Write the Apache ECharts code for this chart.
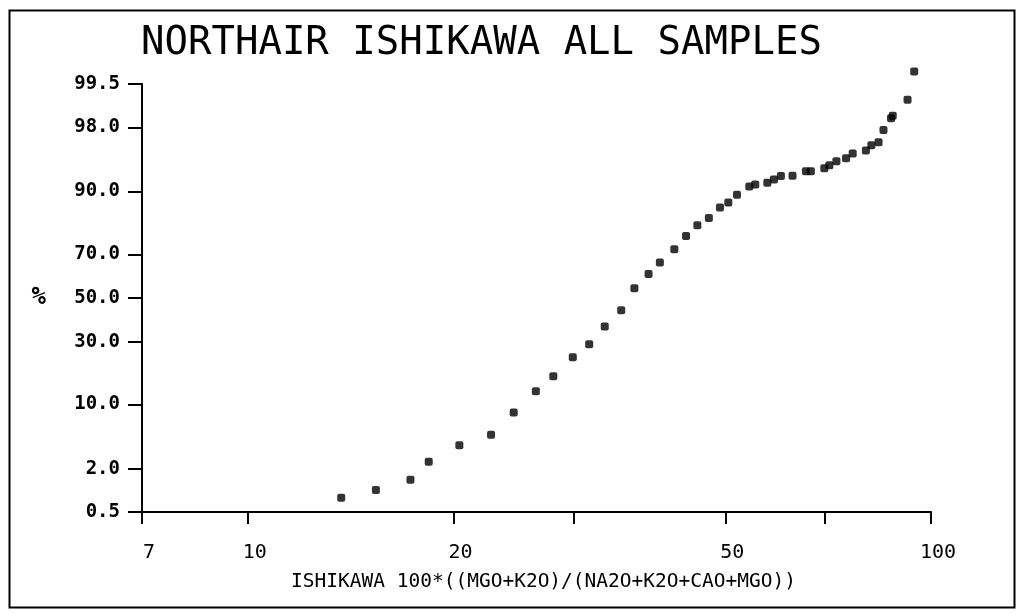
<!DOCTYPE html>
<html><head><meta charset="utf-8">
<script src="https://cdn.jsdelivr.net/npm/echarts@6/dist/echarts.min.js"></script>
<style>html,body{margin:0;padding:0;background:#fff}#chart{width:1019px;height:613px}</style>
</head><body><div id="chart"></div>
<script>
const chartTitle = 'NORTHAIR ISHIKAWA ALL SAMPLES';
const xAxisName = 'ISHIKAWA 100*((MGO+K2O)/(NA2O+K2O+CAO+MGO))';
const yAxisName = '%';

// Ishikawa index values (x) and cumulative percent (y, probability scale)
const ishikawa = [13.7, 15.4, 17.3, 18.4, 20.4, 22.7, 24.5, 26.4, 28.0, 29.9, 31.6, 33.3, 35.2, 36.8, 38.6, 40.1, 42.1, 43.8, 45.5, 47.3, 49.1, 50.5, 52.0, 54.2, 55.3, 57.6, 58.9, 60.3, 62.7, 65.6, 66.7, 69.8, 71.0, 72.7, 75.1, 76.8, 80.3, 81.8, 83.8, 85.2, 87.4, 87.9, 92.4, 94.5];
const cumPercent = [0.81, 1.04, 1.43, 2.43, 3.81, 5.0, 8.4, 13.1, 17.3, 23.8, 28.9, 36.6, 44.1, 54.7, 61.4, 66.5, 72.1, 77.2, 80.9, 83.2, 86.2, 87.5, 89.3, 91.0, 91.4, 91.75, 92.3, 92.9, 92.95, 93.65, 93.65, 94.1, 94.5, 95.0, 95.36, 95.9, 96.2, 96.7, 96.96, 97.84, 98.48, 98.59, 99.15, 99.68];

const yTickPercents = [0.5, 2.0, 10.0, 30.0, 50.0, 70.0, 90.0, 98.0, 99.5];
const xTickValues = [7, 10, 20, 30, 50, 70, 100];
const xLabelValues = [7, 10, 20, 50, 100];
const xMin = 7, xMax = 100;

// inverse normal CDF (Acklam)
function probit(p){
  const a=[-3.969683028665376e+01,2.209460984245205e+02,-2.759285104469687e+02,1.383577518672690e+02,-3.066479806614716e+01,2.506628277459239e+00];
  const b=[-5.447609879822406e+01,1.615858368580409e+02,-1.556989798598866e+02,6.680131188771972e+01,-1.328068155022803e+01];
  const c=[-7.784894002430293e-03,-3.223964580411365e-01,-2.400758277161838e+00,-2.549732539343734e+00,4.374664141464968e+00,2.938163982698783e+00];
  const d=[7.784695709041462e-03,3.224671290700398e-01,2.445134137142996e+00,3.754408661907416e+00];
  const pl=0.02425, ph=1-pl; let q,r;
  if(p<pl){q=Math.sqrt(-2*Math.log(p));return (((((c[0]*q+c[1])*q+c[2])*q+c[3])*q+c[4])*q+c[5])/((((d[0]*q+d[1])*q+d[2])*q+d[3])*q+1);}
  if(p<=ph){q=p-0.5;r=q*q;return (((((a[0]*r+a[1])*r+a[2])*r+a[3])*r+a[4])*r+a[5])*q/(((((b[0]*r+b[1])*r+b[2])*r+b[3])*r+b[4])*r+1);}
  q=Math.sqrt(-2*Math.log(1-p));return -(((((c[0]*q+c[1])*q+c[2])*q+c[3])*q+c[4])*q+c[5])/((((d[0]*q+d[1])*q+d[2])*q+d[3])*q+1);
}
const yTicksZ = yTickPercents.map(p => probit(p/100));
const zMin = yTicksZ[0], zMax = yTicksZ[yTicksZ.length-1];

const points = ishikawa.map((x,i) => [x, probit(cumPercent[i]/100)]);

const chart = echarts.init(document.getElementById('chart'), null, {renderer:'canvas'});
chart.setOption({
  animation: false,
  backgroundColor: '#fff',
  title: {
    text: chartTitle, left: 136, top: 19,
    textStyle: {fontFamily: 'DejaVu Sans Mono', fontSize: 39, fontWeight: 'normal', color: '#000'}
  },
  grid: {left: 142, right: 88, top: 84, bottom: 101, containLabel: false},
  xAxis: {
    type: 'log', logBase: 10, min: xMin, max: xMax,
    name: xAxisName, nameLocation: 'middle', nameGap: 60,
    nameTextStyle: {fontFamily: 'DejaVu Sans Mono', fontSize: 19.5, color: '#000', padding: [0,0,0,14]},
    axisLine: {show: true, onZero: false, lineStyle: {color: '#000', width: 2}},
    axisTick: {show: true, customValues: xTickValues, length: 12, lineStyle: {color: '#000', width: 2}},
    axisLabel: {show: true, customValues: xLabelValues, margin: 31, padding: [0,0,0,14],
      fontFamily: 'DejaVu Sans Mono', fontSize: 20, color: '#000',
      formatter: v => String(Math.round(v))},
    splitLine: {show: false}, minorTick: {show: false}
  },
  yAxis: {
    type: 'value', min: zMin, max: zMax,
    name: yAxisName, nameLocation: 'middle', nameGap: 96, nameRotate: 0,
    nameTextStyle: {fontFamily: 'DejaVu Sans Mono', fontSize: 24, fontWeight: 'bold', color: '#000'},
    axisLine: {show: true, onZero: false, lineStyle: {color: '#000', width: 2}},
    axisTick: {show: true, customValues: yTicksZ, length: 14, lineStyle: {color: '#000', width: 2}},
    axisLabel: {show: true, customValues: yTicksZ, margin: 22,
      fontFamily: 'DejaVu Sans Mono', fontSize: 19, fontWeight: 'bold', color: '#000',
      formatter: v => {
        let best = 0, bd = Infinity;
        yTicksZ.forEach((z,i) => { const dd = Math.abs(z - v); if (dd < bd) { bd = dd; best = i; } });
        return yTickPercents[best].toFixed(1);
      }},
    splitLine: {show: false}
  },
  series: [{
    type: 'scatter', data: points, clip: false,
    symbol: 'roundRect', symbolSize: 8,
    itemStyle: {color: '#000'}
  }],
  graphic: [{
    type: 'rect', left: 7, top: 8, silent: true,
    shape: {width: 1005, height: 597},
    style: {fill: 'none', stroke: '#000', lineWidth: 2}
  }]
});
</script>
</body></html>
